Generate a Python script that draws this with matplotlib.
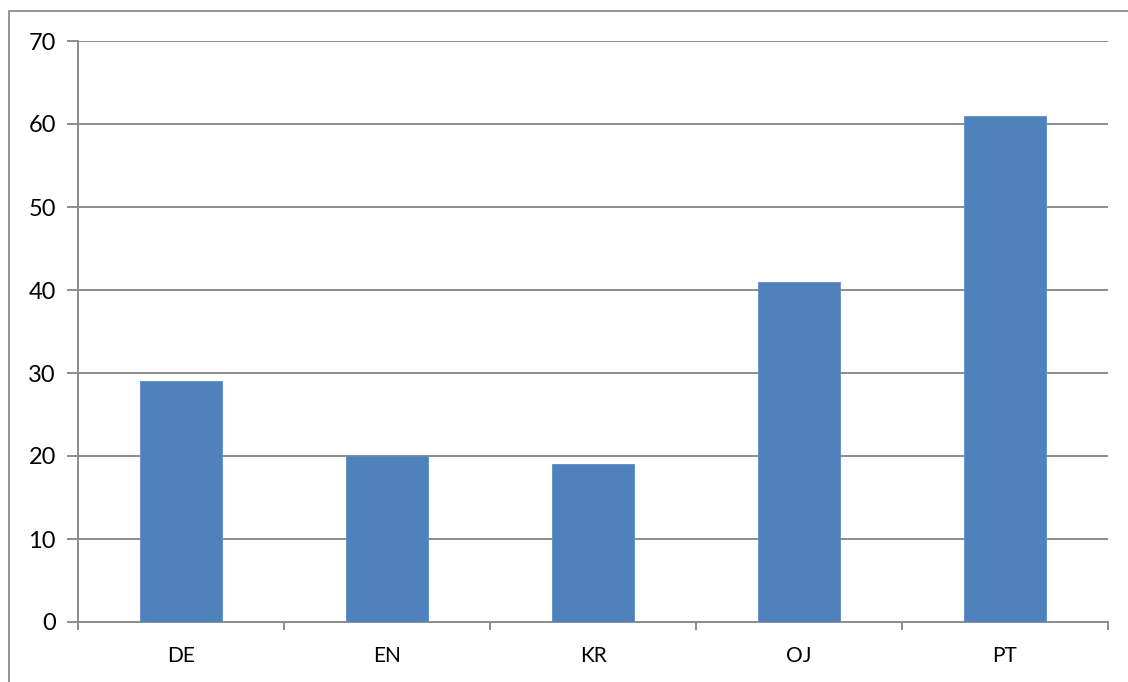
import matplotlib

matplotlib.use("Agg")
import matplotlib.pyplot as plt
import numpy as np
from matplotlib.patches import Rectangle

categories = ["DE", "EN", "KR", "OJ", "PT"]
values = [29, 20, 19, 41, 61]
y_ticks = [0, 10, 20, 30, 40, 50, 60, 70]

W, H = 1128, 682
plt.rcParams["font.family"] = ["Lato", "DejaVu Sans"]

fig = plt.figure(figsize=(W / 100, H / 100), dpi=100)
ax = fig.add_axes([78 / W, 1 - 622 / H, (1108 - 78) / W, (622 - 41) / H])

grid_color = "#8c8c8c"
x = np.arange(len(categories))
ax.bar(x, values, width=0.4, color="#4F81BD", edgecolor="#5b8cc6", linewidth=0.6, zorder=3)

ax.set_xlim(-0.5, len(categories) - 0.5)
ax.set_ylim(0, 70)
ax.set_yticks(y_ticks)
ax.set_yticklabels([str(v) for v in y_ticks], fontsize=17)
ax.yaxis.grid(True, color=grid_color, linewidth=1.4, zorder=0)

# category labels centred, tick marks at the boundaries
ax.set_xticks(np.arange(len(categories) + 1) - 0.5)
ax.set_xticklabels([])
ax.set_xticks(x, minor=True)
ax.set_xticklabels(categories, minor=True, fontsize=15)
ax.tick_params(axis="x", which="minor", length=0, pad=17)
ax.tick_params(axis="x", which="major", length=6, color=grid_color, width=1.4, direction="out")
ax.tick_params(axis="y", length=8, color=grid_color, width=1.4, pad=8)

for side in ["top", "right"]:
    ax.spines[side].set_visible(False)
for side in ["left", "bottom"]:
    ax.spines[side].set_color(grid_color)
    ax.spines[side].set_linewidth(1.4)

# outer chart border (cut off at right and bottom)
fig.patches.append(Rectangle((9 / W, -0.1), 1.2, 1 - 11 / H + 0.1, transform=fig.transFigure,
                             fill=False, edgecolor="#8c8c8c", linewidth=1.3))

fig.savefig("out.png", dpi=100)
